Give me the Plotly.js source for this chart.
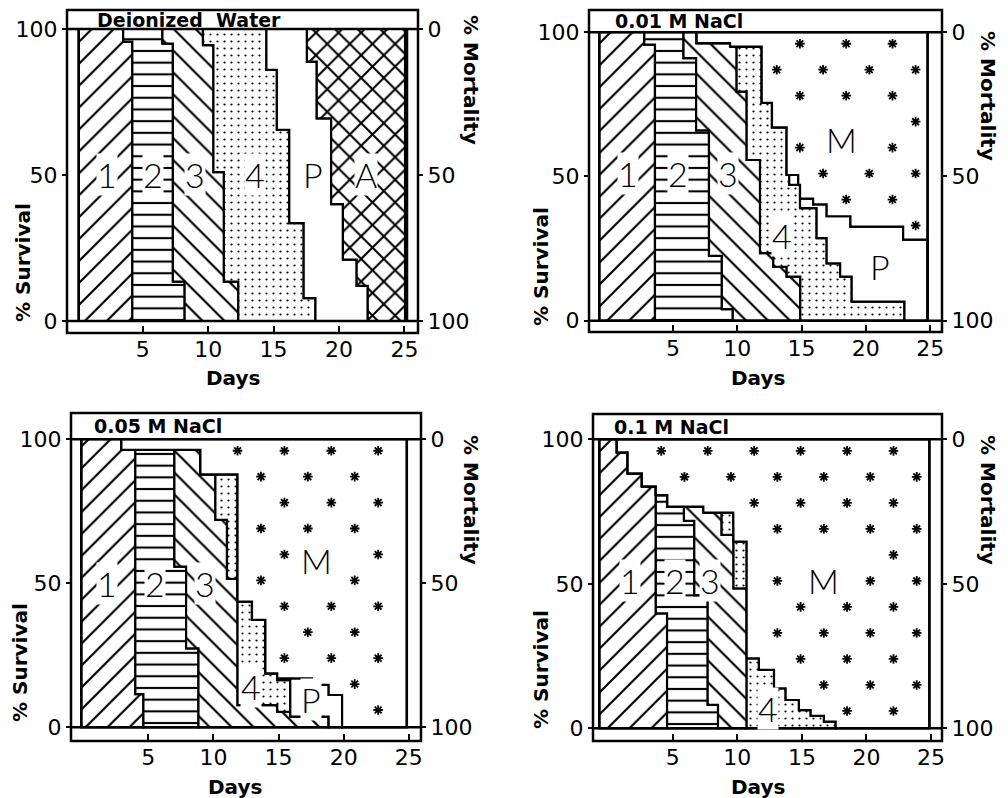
<!DOCTYPE html>
<html><head><meta charset="utf-8">
<script src="https://cdn.plot.ly/plotly-3.0.1.min.js"></script>
<style>html,body{margin:0;padding:0;background:#fff;}#chart{width:1008px;height:798px;}</style>
</head><body><div id="chart"></div>
<script>
// ---------------- DATA ----------------
// Each stage region is bounded on the right by a staircase:
// survival breakpoints (S, descending 100 -> 0) and the day reached in each band (D).
const panelTitles = ["Deionized  Water", "0.01 M NaCl", "0.05 M NaCl", "0.1 M NaCl"];
const dayTicks = [5, 10, 15, 20, 25];
const survivalTicks = [0, 50, 100];
const mortalityTickText = ["100", "50", "0"];

// Deionized water
const dwS1 = [100, 95.7, 0];                       const dwD1 = [3.5, 4.2];
const dwS2 = [100, 95, 13.5, 0];                   const dwD2 = [6.5, 7.3, 8.2];
const dwS3 = [100, 94.5, 51, 13.5, 0];             const dwD3 = [9.6, 10.4, 11.2, 12.3];
const dwS4 = [100, 86, 65.5, 33.5, 7.8, 0];        const dwD4 = [14.45, 15.25, 16.2, 17.3, 18.2];
const dwSP = [100, 88.8, 69.4, 40, 21, 12, 0];     const dwDP = [17.55, 18.3, 19.4, 20.3, 21.35, 22.2];
const dwSA = [100, 0];                             const dwDA = [25.05];

// 0.01 M NaCl
const n1S1 = [100, 95.7, 0];                       const n1D1 = [2.77, 3.6];
const n1S2 = [100, 91, 66, 22.5, 4, 0];            const n1D2 = [5.82, 6.8, 7.8, 8.8, 9.65];
const n1S3 = [100, 96.2, 95, 79.4, 55.7, 23.4, 18.7, 15.3, 0];
const n1D3 = [6.84, 9.44, 9.95, 10.73, 11.77, 12.8, 13.84, 14.9];
const n1S4 = [100, 96.2, 95, 75.5, 67, 50.5, 47.1, 39, 28.6, 19.9, 15.3, 6.6, 0];
const n1D4 = [6.84, 9.44, 11.9, 12.7, 13.84, 14.04, 14.88, 16.17, 16.95, 18.0, 18.9, 23.0];
const n1SP = [100, 96.2, 95, 75.5, 67, 50.5, 47.1, 42.3, 40.3, 36.2, 32.6, 28.1, 0];
const n1DP = [6.84, 9.44, 11.9, 12.7, 13.84, 14.74, 14.88, 15.9, 16.95, 18.8, 22.9, 24.8];
const n1SM = [100, 0];                             const n1DM = [24.8];

// 0.05 M NaCl
const n5S1 = [100, 96.3, 11.5, 0];                 const n5D1 = [2.93, 4.0, 4.62];
const n5S2 = [100, 96.3, 55.8, 27.4, 0];           const n5D2 = [2.93, 7.0, 7.9, 8.85];
const n5S3 = [100, 96.3, 87.8, 72, 51.5, 7.7, 5.4, 3.7, 0];
const n5D3 = [2.93, 9.0, 10.15, 11.04, 11.85, 14.9, 15.9, 18.85];
const n5S4 = [100, 96.3, 87.8, 43.6, 37.3, 18.7, 16.4, 3.7, 0];
const n5D4 = [2.93, 9.0, 11.85, 12.96, 13.99, 14.9, 15.9, 18.85];
const n5SP = [100, 96.3, 87.8, 43.6, 37.3, 18.7, 17, 14.7, 11.2, 0];
const n5DP = [2.93, 9.0, 11.85, 12.96, 13.99, 14.9, 17.57, 18.85, 19.88];
const n5SM = [100, 0];                             const n5DM = [24.85];

// 0.1 M NaCl
const n10S1 = [100, 95.5, 88.2, 83.7, 39.8, 0];    const n10D1 = [0.66, 1.5, 2.6, 3.68, 4.55];
const n10S2 = [100, 95.5, 88.2, 83.7, 80.7, 76.7, 71.8, 46.1, 8.1, 0];
const n10D2 = [0.66, 1.5, 2.6, 3.68, 4.57, 5.86, 6.66, 7.7, 8.5];
const n10S3 = [100, 95.5, 88.2, 83.7, 80.7, 76.7, 74.6, 66.9, 48.4, 0];
const n10D3 = [0.66, 1.5, 2.6, 3.68, 4.57, 7.36, 8.78, 9.7, 10.72];
const n10S4 = [100, 95.5, 88.2, 83.7, 80.7, 76.7, 74.6, 66.9, 64.6, 24.2, 20.2, 13.8, 9.8, 6.3, 4.3, 2.3, 0];
const n10D4 = [0.66, 1.5, 2.6, 3.68, 4.57, 7.36, 9.68, 9.7, 10.72, 11.67, 12.84, 13.74, 14.77, 15.68, 16.71, 17.62];
const n10SM = [100, 0];                            const n10DM = [24.88];

// ---------------- STYLE / LAYOUT ----------------
const W = 1008, H = 798;
const stageStyle = {
  '1': {shape: '/', size: 15.5, solidity: 0.14},
  '2': {shape: '-', size: 11.7, solidity: 0.18},
  '3': {shape: '\\', size: 15.5, solidity: 0.14},
  '4': {shape: '.', size: 7, solidity: 0.08},
  'P': null,
  'A': {shape: 'x', size: 16, solidity: 0.24},
  'M': null
};

const panels = [
  {px: [67, 418], py: [10, 333], xr: [-0.795, 26.04], yr: [-4.11, 106.5], innerL: 0.1, innerR: 25.2,
   stages: [['1', dwS1, dwD1], ['2', dwS2, dwD2], ['3', dwS3, dwD3], ['4', dwS4, dwD4], ['P', dwSP, dwDP], ['A', dwSA, dwDA]],
   labels: [['1', 2.24, 50], ['2', 5.8, 50], ['3', 9.0, 50], ['4', 13.6, 50], ['P', 18.0, 50], ['A', 22.1, 50]],
   titlePos: [95, 20], daysPos: [233, 378], survPos: [23, 263], mortPos: [471, 80]},
  {px: [589, 942], py: [10, 332], xr: [-1.53, 25.92], yr: [-3.92, 107.7], innerL: -0.73, innerR: 24.8,
   stages: [['1', n1S1, n1D1], ['2', n1S2, n1D2], ['3', n1S3, n1D3], ['4', n1S4, n1D4], ['P', n1SP, n1DP], ['M', n1SM, n1DM]],
   labels: [['1', 1.5, 51], ['2', 5.4, 51], ['3', 9.3, 51], ['4', 13.45, 29.7], ['M', 18.1, 62.7], ['P', 21.1, 18.7]],
   titlePos: [613, 21], daysPos: [758, 378], survPos: [541, 267], mortPos: [988, 96]},
  {px: [71, 421], py: [413, 741], xr: [-0.94, 25.94], yr: [-4.76, 109.1], innerL: -0.15, innerR: 24.85,
   stages: [['1', n5S1, n5D1], ['2', n5S2, n5D2], ['3', n5S3, n5D3], ['4', n5S4, n5D4], ['P', n5SP, n5DP], ['M', n5SM, n5DM]],
   labels: [['1', 1.8, 50], ['2', 5.5, 50], ['3', 9.35, 50], ['M', 17.9, 58], ['4', 12.9, 14.1], ['P', 17.5, 9.5]],
   titlePos: [92, 426], daysPos: [235, 787], survPos: [20, 663], mortPos: [471, 500]},
  {px: [593, 942], py: [414, 741], xr: [-1.19, 25.86], yr: [-4.39, 108.75], innerL: -0.7, innerR: 24.88,
   stages: [['1', n10S1, n10D1], ['2', n10S2, n10D2], ['3', n10S3, n10D3], ['4', n10S4, n10D4], ['M', n10SM, n10DM]],
   labels: [['1', 1.67, 51.3], ['2', 5.16, 51.3], ['3', 7.9, 51.3], ['M', 16.7, 51.3], ['4', 12.4, 6.9]],
   titlePos: [612, 427], daysPos: [758, 787], survPos: [541, 670], mortPos: [988, 500]}
];

function stair(S, D) {
  const v = [];
  for (let i = 0; i < D.length; i++) { v.push([D[i], S[i]]); v.push([D[i], S[i + 1]]); }
  return v;
}
function stepAt(S, D, s) {
  for (let i = 0; i < D.length; i++) if (s <= S[i] && s >= S[i + 1]) return D[i];
  return D[D.length - 1];
}

const traces = [];
const shapes = [];
const annotations = [];
const layout = {
  width: W, height: H, margin: {l: 0, r: 0, t: 0, b: 0},
  paper_bgcolor: 'white', plot_bgcolor: 'white', showlegend: false,
  font: {family: 'DejaVu Sans, sans-serif', color: 'black'}
};
const tickFont = {family: 'DejaVu Sans, sans-serif', size: 22, color: 'black'};
const boldFont = {family: 'DejaVu Sans, sans-serif', size: 20, color: 'black', weight: 'bold'};
const titleFont = {family: 'DejaVu Sans, sans-serif', size: 19, color: 'black', weight: 'bold'};
const labelFont = {family: 'Lato, DejaVu Sans, sans-serif', size: 34, color: 'black', weight: 300};

panels.forEach((p, i) => {
  const k = i === 0 ? '' : String(i + 1);
  const xa = 'x' + k, ya = 'y' + k, yr2 = 'y' + (i + 5);
  const dom = [p.px[0] / W, p.px[1] / W];
  const domY = [1 - p.py[1] / H, 1 - p.py[0] / H];
  layout['xaxis' + k] = {domain: dom, range: p.xr, anchor: ya, tickvals: dayTicks, ticks: 'inside', ticklen: 7,
    tickwidth: 2, tickcolor: 'black', showgrid: false, zeroline: false, showline: false, tickfont: tickFont,
    fixedrange: true, ticklabelstandoff: 1};
  layout['yaxis' + k] = {domain: domY, range: p.yr, anchor: xa, tickvals: survivalTicks, ticks: 'outside', ticklen: 4,
    tickwidth: 2, tickcolor: 'black', showgrid: false, zeroline: false, showline: false, tickfont: tickFont,
    fixedrange: true, ticklabelstandoff: 0};
  layout['yaxis' + (i + 5)] = {overlaying: ya, side: 'right', anchor: xa, range: p.yr, tickvals: survivalTicks,
    ticktext: mortalityTickText, ticks: 'outside', ticklen: 4, tickwidth: 2, tickcolor: 'black', showgrid: false,
    zeroline: false, showline: false, tickfont: tickFont, fixedrange: true, ticklabelstandoff: 0};

  // stage regions
  let prev = [[p.innerL, 100], [p.innerL, 0]];
  let last = null;
  p.stages.forEach(([name, S, D]) => {
    const right = stair(S, D);
    const poly = right.concat(prev.slice().reverse());
    poly.push(poly[0]);
    const st = stageStyle[name];
    const tr = {type: 'scatter', mode: 'lines', x: poly.map(v => v[0]), y: poly.map(v => v[1]),
      xaxis: xa, yaxis: ya, fill: 'toself', fillcolor: 'white', line: {color: 'black', width: 2.2},
      hoverinfo: 'skip', showlegend: false};
    if (st) tr.fillpattern = {shape: st.shape, size: st.size, solidity: st.solidity, fgcolor: 'black', bgcolor: 'white', fillmode: 'replace'};
    traces.push(tr);
    if (name !== 'M') last = [S, D];
    prev = right;
  });

  // invisible trace so the right-hand (% Mortality) axis is drawn
  traces.push({type: 'scatter', mode: 'markers', x: [p.innerL], y: [50], xaxis: xa, yaxis: yr2,
    marker: {opacity: 0, size: 1}, hoverinfo: 'skip', showlegend: false});

  // asterisks in mortality region
  const hasM = p.stages.some(s => s[0] === 'M');
  if (hasM) {
    const mLab = p.labels.find(l => l[0] === 'M');
    const sx = [], sy = [];
    let row = 0;
    for (let s = 96; s > 2; s -= 9, row++) {
      for (let x = p.innerL + 1.2 + (row % 2) * 1.8; x < p.innerR - 0.6; x += 3.6) {
        const edge = Math.max(stepAt(last[0], last[1], Math.min(100, s + 3)), stepAt(last[0], last[1], s), stepAt(last[0], last[1], Math.max(0, s - 3)));
        if (x < edge + 0.9) continue;
        if (Math.abs(x - mLab[1]) < 2.4 && Math.abs(s - mLab[2]) < 9) continue;
        sx.push(x); sy.push(s);
      }
    }
    traces.push({type: 'scatter', mode: 'markers', x: sx, y: sy, xaxis: xa, yaxis: ya, hoverinfo: 'skip',
      marker: {symbol: 'asterisk-open', size: 8, color: 'black', line: {color: 'black', width: 1.8}}});
  }

  // frame
  const L = {color: 'black', width: 2.5};
  shapes.push({type: 'rect', xref: xa + ' domain', yref: ya + ' domain', x0: 0, x1: 1, y0: 0, y1: 1, line: L, layer: 'above'});
  shapes.push({type: 'line', xref: xa + ' domain', yref: ya, x0: 0, x1: 1, y0: 100, y1: 100, line: L, layer: 'above'});
  shapes.push({type: 'line', xref: xa + ' domain', yref: ya, x0: 0, x1: 1, y0: 0, y1: 0, line: L, layer: 'above'});
  shapes.push({type: 'line', xref: xa, yref: ya, x0: p.innerL, x1: p.innerL, y0: 0, y1: 100, line: L, layer: 'above'});
  shapes.push({type: 'line', xref: xa, yref: ya, x0: p.innerR, x1: p.innerR, y0: 0, y1: 100, line: L, layer: 'above'});

  // texts
  annotations.push({xref: 'paper', yref: 'paper', x: p.titlePos[0] / W, y: 1 - p.titlePos[1] / H, xanchor: 'left', yanchor: 'middle',
    text: panelTitles[i], showarrow: false, font: titleFont});
  annotations.push({xref: 'paper', yref: 'paper', x: p.daysPos[0] / W, y: 1 - p.daysPos[1] / H, xanchor: 'center', yanchor: 'middle',
    text: 'Days', showarrow: false, font: boldFont});
  annotations.push({xref: 'paper', yref: 'paper', x: p.survPos[0] / W, y: 1 - p.survPos[1] / H, xanchor: 'center', yanchor: 'middle',
    text: '% Survival', textangle: -90, showarrow: false, font: boldFont});
  annotations.push({xref: 'paper', yref: 'paper', x: p.mortPos[0] / W, y: 1 - p.mortPos[1] / H, xanchor: 'center', yanchor: 'middle',
    text: '% Mortality', textangle: 90, showarrow: false, font: boldFont});
  p.labels.forEach(([t, x, s]) => {
    annotations.push({xref: xa, yref: ya, x: x, y: s, text: t, showarrow: false, font: labelFont,
      bgcolor: 'white', borderpad: 0, xanchor: 'center', yanchor: 'middle'});
  });
});

layout.shapes = shapes;
layout.annotations = annotations;
Plotly.newPlot('chart', traces, layout, {staticPlot: true, displayModeBar: false});
</script></body></html>
